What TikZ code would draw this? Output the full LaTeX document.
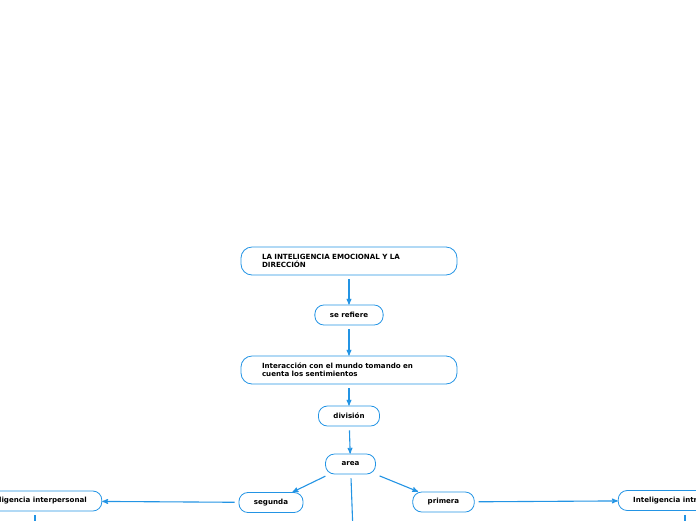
\documentclass[tikz,border=0pt]{standalone}
\usepackage{fontspec}
\setmainfont{DejaVu Sans}
\usetikzlibrary{arrows}
\usetikzlibrary{positioning}
\definecolor{mapblue}{RGB}{35,148,228}
\newcommand\mapfont{\fontsize{7.1}{8}\selectfont\bfseries}

\begin{document}
\begin{tikzpicture}[->,>=stealth',x=1pt,y=-1pt]
		\tikzstyle{concept}=[rectangle,draw=mapblue,line width=0.8pt,rounded corners=9pt,
			font=\mapfont,minimum height=20pt,inner xsep=15pt,inner ysep=2pt];
		\tikzstyle{bigconcept}=[concept,text width=174pt,align=left,inner xsep=21pt,
			minimum height=28pt,rounded corners=11pt];
		\tikzstyle{link}=[draw=mapblue,line width=1.1pt,shorten <=4pt];
		\useasboundingbox (0,0) rectangle (696,520);
		\clip (0,0) rectangle (696,520);

		\node[bigconcept](title) at (349,261){LA INTELIGENCIA EMOCIONAL Y LA\\DIRECCIÓN};
		\node[concept,below of=title,node distance=54pt](refiere){se refiere};
		\node[bigconcept,below of=refiere,node distance=55pt](interaccion){Interacción con el mundo tomando en\\cuenta los sentimientos};
		\node[concept,below of=interaccion,node distance=46pt](division){división};
		\node[concept,below of=division,node distance=48pt,xshift=1.5pt,minimum width=50pt](area){area};
		\node[concept](segunda) at (271,502.5){segunda};
		\node[concept](primera) at (443.5,502){primera};
		\node[concept](inter) at (35,501){Inteligencia interpersonal};
		\node[concept](intra) at (685,500.5){Inteligencia intrapersonal};

		% ramas que siguen fuera del dibujo
		\coordinate (areadown) at (354,560);
		\coordinate (interdown) at (35,560);
		\coordinate (intradown) at (685,560);

		\draw[link](title)--(refiere);
		\draw[link](refiere)--(interaccion);
		\draw[link](interaccion)--(division);
		\draw[link](division)--(area);
		\draw[link](area)--(segunda);
		\draw[link](area)--(primera);
		\draw[link](area)--(areadown);
		\draw[link](segunda)--(inter);
		\draw[link](primera)--(intra);
		\draw[link](inter)--(interdown);
		\draw[link](intra)--(intradown);
	\end{tikzpicture}
\end{document}
